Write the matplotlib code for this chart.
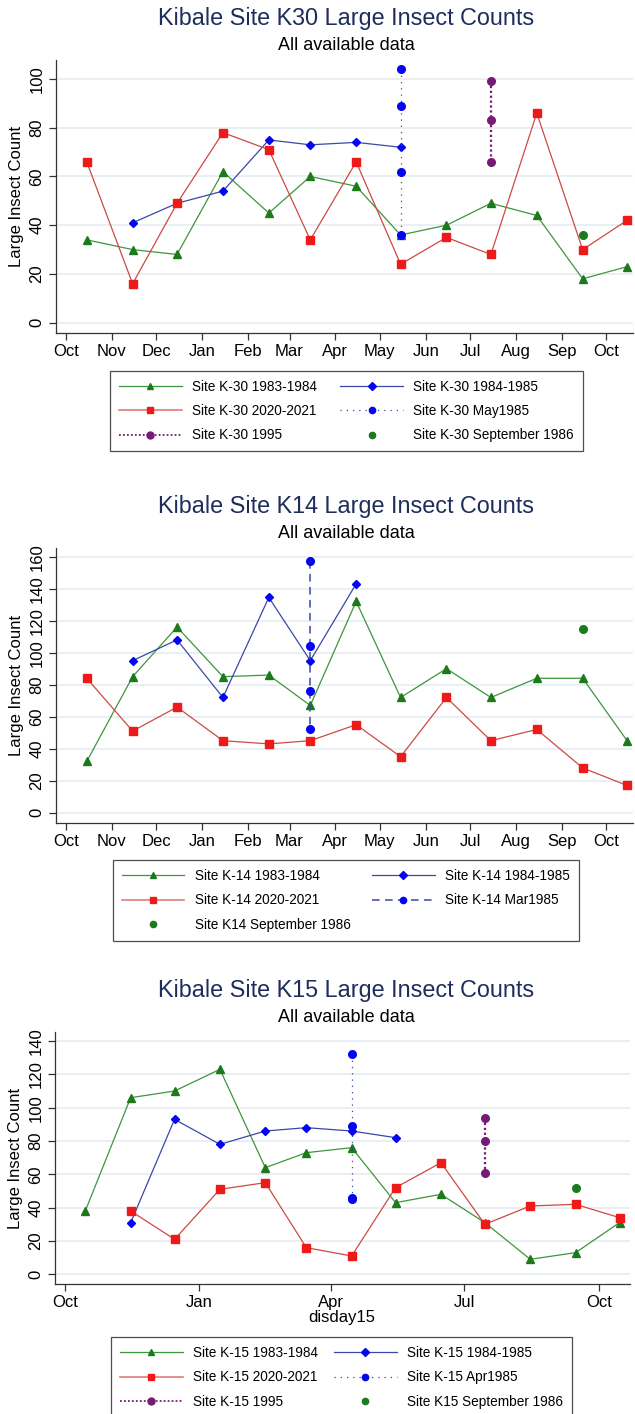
import matplotlib
matplotlib.use("Agg")
import matplotlib.pyplot as plt
from matplotlib.lines import Line2D

plt.rcParams['font.family'] = ['Liberation Sans', 'DejaVu Sans']

# ---------------- data ----------------
# day offsets from Oct 1 (mid-month sampling dates, "disday15")
days15 = [14, 45, 75, 106, 137, 165, 196, 226, 257, 287, 318, 349, 379]
month_tick_days = [0, 31, 61, 92, 123, 151, 182, 212, 243, 273, 304, 335, 365]
month_tick_labels = ["Oct", "Nov", "Dec", "Jan", "Feb", "Mar", "Apr", "May",
                     "Jun", "Jul", "Aug", "Sep", "Oct"]
quarter_tick_days = [0, 92, 182, 273, 365]
quarter_tick_labels = ["Oct", "Jan", "Apr", "Jul", "Oct"]

# K-30
k30_8384 = [34, 30, 28, 62, 45, 60, 56, 36, 40, 49, 44, 18, 23]
k30_8485_days = [45, 75, 106, 137, 165, 196, 226]
k30_8485 = [41, 49, 54, 75, 73, 74, 72]
k30_2021 = [66, 16, 49, 78, 71, 34, 66, 24, 35, 28, 86, 30, 42]
k30_may85 = [104, 89, 62, 36]
k30_1995 = [99, 83, 66]
k30_sep86 = [36]

# K-14
k14_8384 = [32, 85, 116, 85, 86, 67, 132, 72, 90, 72, 84, 84, 45]
k14_8485_days = [45, 75, 106, 137, 165, 196]
k14_8485 = [95, 108, 72, 134.5, 95, 143]
k14_2021 = [84, 51, 66, 45, 43, 45, 55, 35, 72, 45, 52, 28, 17]
k14_mar85 = [157, 104, 76, 52]
k14_sep86 = [115]

# K-15
k15_8384 = [38, 106, 110, 123, 64, 73, 76, 43, 48, 31, 9, 13, 31]
k15_8485_days = [45, 75, 106, 137, 165, 196, 226]
k15_8485 = [31, 93, 78, 86, 88, 86, 82]
k15_2021_days = [45, 75, 106, 137, 165, 196, 226, 257, 287, 318, 349, 379]
k15_2021 = [38, 21, 51, 55, 16, 11, 52, 67, 30, 41, 42, 34]
k15_apr85 = [132, 89, 46, 45]
k15_1995 = [94, 80, 61]
k15_sep86 = [52]

# ---------------- styles ----------------
GREEN_L, GREEN_M = '#3d963d', '#1c7a1c'
BLUE_L, BLUE_M = '#3a48a8', '#0505f0'
RED_L, RED_M = '#cc4a44', '#ee1a1a'
PURPLE = '#761a76'
TITLE_C = '#1f2d5c'
GRID_C = '#e7eef1'

W, H = 635, 1414
fig = plt.figure(figsize=(W / 100, H / 100), dpi=100)


def fx(px):
    return px / W


def fy(py):
    return 1 - py / H


def make_axes(left, right, top, bottom):
    return fig.add_axes([fx(left), fy(bottom), fx(right - left), (bottom - top) / H])


def style_axes(ax, yticks, xticks, xlabels):
    ax.set_yticks(yticks)
    ax.set_yticklabels([str(v) for v in yticks], rotation=90, va='center', fontsize=12)
    ax.set_xticks(xticks)
    ax.set_xticklabels(xlabels, fontsize=12)
    for s in ['top', 'right']:
        ax.spines[s].set_visible(False)
    for s in ['left', 'bottom']:
        ax.spines[s].set_color('#333333')
        ax.spines[s].set_linewidth(0.9)
    ax.tick_params(axis='both', direction='out', length=5, width=0.9, color='#333333', pad=3)
    ax.yaxis.grid(True, color=GRID_C, linewidth=1.3)
    ax.set_axisbelow(True)
    ax.set_ylabel("Large Insect Count", fontsize=12, labelpad=4)


def series_line(ax, x, y, lc, mc, marker, ms):
    ax.plot(x, y, color=lc, lw=0.9, marker=marker, ms=ms, mfc=mc, mec=mc, zorder=3)


def titles(title_y, sub_y, text):
    fig.text(fx(346), fy(title_y), text, ha='center', va='center', fontsize=16.8, color=TITLE_C)
    fig.text(fx(346), fy(sub_y), "All available data", ha='center', va='center', fontsize=13, color='black')


def add_legend(handles, labels, x0, x1, ytop):
    fig.legend(handles, labels, loc='upper left',
               bbox_to_anchor=(fx(x0), fy(ytop) - 0.5, fx(x1 - x0), 0.5),
               mode='expand', ncol=2, fontsize=9.8, frameon=True, fancybox=False,
               edgecolor='#222222', handlelength=4.6, handletextpad=0.75,
               labelspacing=0.76, borderpad=0.67, borderaxespad=0, numpoints=1,
               columnspacing=1.5).get_frame().set_linewidth(0.9)


# ================= Panel 1: K30 =================
titles(19, 46, "Kibale Site K30 Large Insect Counts")
ax1 = make_axes(55.5, 633, 60, 332.7)
series_line(ax1, days15, k30_8384, GREEN_L, GREEN_M, '^', 5.5)
series_line(ax1, k30_8485_days, k30_8485, BLUE_L, BLUE_M, 'D', 4.5)
series_line(ax1, days15, k30_2021, RED_L, RED_M, 's', 5.5)
ax1.plot([226] * len(k30_may85), k30_may85, color=BLUE_L, lw=0.9, ls=(0, (1, 4)),
         marker='o', ms=5.5, mfc=BLUE_M, mec=BLUE_M, zorder=4)
ax1.plot([287] * len(k30_1995), k30_1995, color=PURPLE, lw=1.6, ls=(0, (1, 1.2)),
         marker='o', ms=5.5, mfc=PURPLE, mec=PURPLE, zorder=4)
ax1.plot([349] * len(k30_sep86), k30_sep86, ls='none', marker='o', ms=5.5,
         mfc=GREEN_M, mec=GREEN_M, zorder=4)
ax1.set_xlim(-7.1, 383)
ax1.set_ylim(-4.1, 107.8)
style_axes(ax1, [0, 20, 40, 60, 80, 100], month_tick_days, month_tick_labels)

h_g = Line2D([], [], color=GREEN_L, lw=0.9, marker='^', ms=4.5, mfc=GREEN_M, mec=GREEN_M)
h_b = Line2D([], [], color=BLUE_L, lw=0.9, marker='D', ms=4, mfc=BLUE_M, mec=BLUE_M)
h_r = Line2D([], [], color='#e27a7a', lw=1.2, marker='s', ms=5, mfc=RED_M, mec=RED_M)
h_bd = Line2D([], [], color=BLUE_L, lw=0.9, ls=(0, (1, 4)), marker='o', ms=4.5, mfc=BLUE_M, mec=BLUE_M)
h_bdash = Line2D([], [], color=BLUE_L, lw=1.1, ls=(0, (5, 3.5)), marker='o', ms=4.5, mfc=BLUE_M, mec=BLUE_M)
h_p = Line2D([], [], color=PURPLE, lw=1.3, ls=(0, (1, 1.2)), marker='o', ms=5, mfc=PURPLE, mec=PURPLE)
h_s = Line2D([], [], ls='none', marker='o', ms=4.5, mfc=GREEN_M, mec=GREEN_M)

add_legend([h_g, h_r, h_p, h_b, h_bd, h_s],
           ["Site K-30 1983-1984", "Site K-30 2020-2021", "Site K-30 1995",
            "Site K-30 1984-1985", "Site K-30 May1985", "Site K-30 September 1986"],
           110, 583, 370.5)

# ================= Panel 2: K14 =================
titles(506, 533, "Kibale Site K14 Large Insect Counts")
ax2 = make_axes(55.5, 633, 548, 822.7)
series_line(ax2, days15, k14_8384, GREEN_L, GREEN_M, '^', 5.5)
series_line(ax2, k14_8485_days, k14_8485, BLUE_L, BLUE_M, 'D', 4.5)
series_line(ax2, days15, k14_2021, RED_L, RED_M, 's', 5.5)
ax2.plot([165] * len(k14_mar85), k14_mar85, color=BLUE_L, lw=1.1, ls=(0, (5, 3.5)),
         marker='o', ms=5.5, mfc=BLUE_M, mec=BLUE_M, zorder=4)
ax2.plot([349] * len(k14_sep86), k14_sep86, ls='none', marker='o', ms=5.5,
         mfc=GREEN_M, mec=GREEN_M, zorder=4)
ax2.set_xlim(-7.1, 383)
ax2.set_ylim(-6.25, 165.4)
style_axes(ax2, [0, 20, 40, 60, 80, 100, 120, 140, 160], month_tick_days, month_tick_labels)

add_legend([h_g, h_r, h_s, h_b, h_bdash],
           ["Site K-14 1983-1984", "Site K-14 2020-2021", "Site K14 September 1986",
            "Site K-14 1984-1985", "Site K-14 Mar1985"],
           112.6, 579, 860)

# ================= Panel 3: K15 =================
titles(991, 1018, "Kibale Site K15 Large Insect Counts")
ax3 = make_axes(54.7, 629.6, 1031.7, 1284.3)
series_line(ax3, days15, k15_8384, GREEN_L, GREEN_M, '^', 5.5)
series_line(ax3, k15_8485_days, k15_8485, BLUE_L, BLUE_M, 'D', 4.5)
series_line(ax3, k15_2021_days, k15_2021, RED_L, RED_M, 's', 5.5)
ax3.plot([196] * len(k15_apr85), k15_apr85, color=BLUE_L, lw=0.9, ls=(0, (1, 4)),
         marker='o', ms=5.5, mfc=BLUE_M, mec=BLUE_M, zorder=4)
ax3.plot([287] * len(k15_1995), k15_1995, color=PURPLE, lw=1.6, ls=(0, (1, 1.2)),
         marker='o', ms=5.5, mfc=PURPLE, mec=PURPLE, zorder=4)
ax3.plot([349] * len(k15_sep86), k15_sep86, ls='none', marker='o', ms=5.5,
         mfc=GREEN_M, mec=GREEN_M, zorder=4)
ax3.set_xlim(-6.9, 385.9)
ax3.set_ylim(-6, 145.6)
style_axes(ax3, [0, 20, 40, 60, 80, 100, 120, 140], quarter_tick_days, quarter_tick_labels)
ax3.set_xlabel("disday15", fontsize=12, labelpad=0)

add_legend([h_g, h_r, h_p, h_b, h_bd, h_s],
           ["Site K-15 1983-1984", "Site K-15 2020-2021", "Site K-15 1995",
            "Site K-15 1984-1985", "Site K-15 Apr1985", "Site K15 September 1986"],
           111, 572, 1337)

fig.savefig("out.png", dpi=100)
